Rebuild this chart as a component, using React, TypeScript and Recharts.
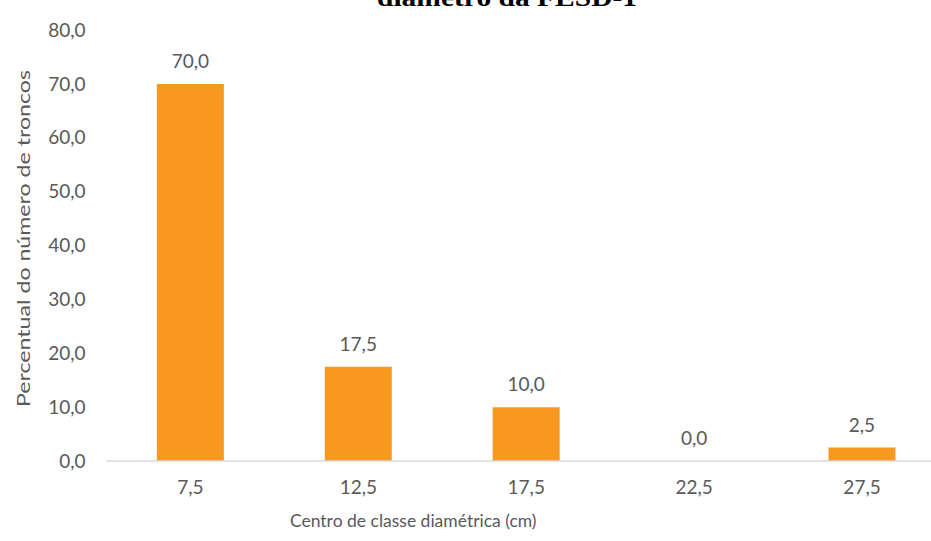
import React from "react";
import { BarChart, Bar, XAxis, YAxis, LabelList, Label } from "recharts";

const categories = ["7,5", "12,5", "17,5", "22,5", "27,5"];
const percentValues = [70.0, 17.5, 10.0, 0.0, 2.5];
const yTicks = [0, 10, 20, 30, 40, 50, 60, 70, 80];

const chartTitle = "diâmetro da FESD-1";
const xTitle = "Centro de classe diamétrica (cm)";
const yTitle = "Percentual do número de troncos";

const data = categories.map((c, i) => ({ name: c, value: percentValues[i] }));

const fmt = (v: number) => v.toFixed(1).replace(".", ",");

const FONT = "Lato, 'Open Sans', sans-serif";
const GRAY = "#595959";

const XTitle = (props: any) => {
  const vb = props.viewBox || {};
  const cx = vb.x + vb.width / 2 - 113;
  return (
    <text x={cx} y={527} textAnchor="middle" fill={GRAY} fontSize={17.5} fontFamily={FONT}>
      {xTitle}
    </text>
  );
};

const YTitle = (props: any) => {
  const vb = props.viewBox || {};
  const cy = vb.y + vb.height / 2 - 7;
  const cx = 23;
  return (
    <text
      x={cx}
      y={cy}
      transform={`rotate(-90 ${cx} ${cy})`}
      textAnchor="middle"
      dominantBaseline="central"
      fill={GRAY}
      fontSize={17.5}
      fontFamily={FONT}
      textLength={337}
      lengthAdjust="spacingAndGlyphs"
    >
      {yTitle}
    </text>
  );
};

const ValueLabel = (props: any) => {
  const { x, y, width, value } = props;
  return (
    <text
      x={Number(x) + Number(width) / 2}
      y={Number(y) - 16}
      textAnchor="middle"
      fill={GRAY}
      fontSize={19}
      fontFamily={FONT}
    >
      {fmt(Number(value))}
    </text>
  );
};

export default function App() {
  return (
    <div
      style={{
        position: "fixed",
        left: 0,
        top: 0,
        width: 931,
        height: 541,
        overflow: "hidden",
        background: "#ffffff",
      }}
    >
      <svg width={931} height={30} style={{ position: "absolute", left: 0, top: 0, zIndex: 2 }}>
        <text
          x={507}
          y={6}
          textAnchor="middle"
          fontFamily="'Liberation Serif', serif"
          fontWeight="bold"
          fontSize={25}
          fill="#000"
          textLength={260}
          lengthAdjust="spacingAndGlyphs"
        >
          {chartTitle}
        </text>
      </svg>
      <BarChart
        width={960}
        height={541}
        data={data}
        margin={{ top: 30, right: 14, bottom: 20, left: 46.5 }}
        barCategoryGap="30%"
      >
        <XAxis
          dataKey="name"
          height={60}
          axisLine={{ stroke: "#d9d9d9", strokeWidth: 1.5 }}
          tickLine={false}
          tickMargin={14}
          tick={{ fill: GRAY, fontSize: 19, fontFamily: FONT }}
        >
          <Label content={<XTitle />} />
        </XAxis>
        <YAxis
          width={60}
          domain={[0, 80]}
          ticks={yTicks}
          interval={0}
          axisLine={false}
          tickLine={false}
          tickMargin={15}
          tickFormatter={fmt}
          tick={{ fill: GRAY, fontSize: 19, fontFamily: FONT }}
        >
          <Label content={<YTitle />} />
        </YAxis>
        <Bar dataKey="value" fill="#F7991F" minPointSize={0.01} isAnimationActive={false}>
          <LabelList dataKey="value" content={<ValueLabel />} />
        </Bar>
      </BarChart>
    </div>
  );
}
